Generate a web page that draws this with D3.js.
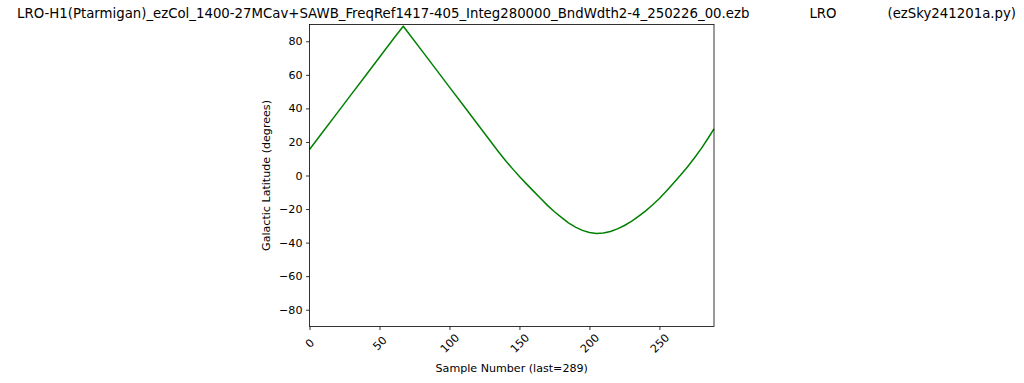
<!DOCTYPE html>
<html>
<head>
<meta charset="utf-8">
<script src="https://cdn.jsdelivr.net/npm/d3@7"></script>
<style>
  body { margin: 0; background: #fff; }
  text { font-family: "DejaVu Sans", sans-serif; fill: #000; }
</style>
</head>
<body>
<svg class="chart"></svg>
<script>
const width = 1024;
const height = 383;

// sample number and galactic latitude
const samples = [0, 10, 20, 30, 40, 50, 60, 67, 70, 80, 90, 100, 110, 120, 130, 135, 140, 145,
  150, 155, 160, 165, 170, 175, 180, 185, 190, 195, 200, 205, 210, 215, 220, 225, 230, 235, 240,
  245, 250, 255, 260, 265, 270, 275, 280, 285, 289];
const latitudes = [15.5, 26.5, 37.5, 48.5, 59.5, 70.5, 81.5, 89.0, 85.7, 74.7, 63.7, 52.7, 41.7,
  30.7, 19.7, 14.2, 8.9, 4.1, -0.6, -5.0, -9.3, -13.6, -17.8, -21.6, -25.0, -28.2, -30.8, -32.7,
  -34.0, -34.6, -34.3, -33.4, -31.8, -29.8, -27.3, -24.4, -21.2, -17.6, -13.7, -9.3, -4.6, 0.1,
  5.1, 10.4, 16.2, 22.5, 27.8];
const xTicks = [0, 50, 100, 150, 200, 250];
const yTicks = [-80, -60, -40, -20, 0, 20, 40, 60, 80];
const titleParts = ["LRO-H1(Ptarmigan)_ezCol_1400-27MCav+SAWB_FreqRef1417-405_Integ280000_BndWdth2-4_250226_00.ezb",
  "LRO", "(ezSky241201a.py)"];
const xLabel = "Sample Number (last=289)";
const yLabel = "Galactic Latitude (degrees)";

const margin = { top: 24.5, right: 310, bottom: 56.5, left: 309.5 };
const plotW = width - margin.left - margin.right;
const plotH = height - margin.top - margin.bottom;

const svg = d3.select('.chart').attr('width', width).attr('height', height);
const g = svg.append('g').attr('transform', `translate(${margin.left},${margin.top})`);

const x = d3.scaleLinear().domain([0, 289]).range([0, plotW]);
const y = d3.scaleLinear().domain([-90, 90]).range([plotH, 0]);

// title pieces (matplotlib title with wide gaps)
const titleX = [17, 823, 1016];
const titleAnchor = ['start', 'middle', 'end'];
svg.selectAll('.title')
  .data(titleParts)
  .enter()
  .append('text')
  .attr('class', 'title')
  .attr('x', (d, i) => titleX[i])
  .attr('y', 18)
  .attr('text-anchor', (d, i) => titleAnchor[i])
  .style('font-size', '13.3px')
  .text(d => d);

// the line
const line = d3.line()
  .x((d, i) => x(samples[i]))
  .y(d => y(d));

g.append('path')
  .datum(latitudes)
  .attr('d', line)
  .style('fill', 'none')
  .style('stroke', '#008000')
  .style('stroke-width', '1.5px')
  .style('stroke-linejoin', 'round');

// x axis
const xAxis = g.append('g')
  .attr('transform', `translate(0,${plotH})`)
  .call(d3.axisBottom(x).tickValues(xTicks).tickSize(3.5).tickPadding(3.5).tickFormat(d3.format('d')));
xAxis.select('.domain').remove();
xAxis.selectAll('line').attr('stroke', '#000').attr('stroke-width', 0.8);
xAxis.selectAll('text')
  .style('font-size', '11.1px')
  .attr('y', 0)
  .attr('dy', null)
  .attr('text-anchor', 'middle')
  .attr('dominant-baseline', 'central')
  .attr('transform', 'translate(0,17) rotate(-45)');

// y axis
const yAxis = g.append('g')
  .call(d3.axisLeft(y).tickValues(yTicks).tickSize(3.5).tickPadding(3.5)
    .tickFormat(d => d < 0 ? '\u2212' + Math.abs(d) : d));
yAxis.select('.domain').remove();
yAxis.selectAll('line').attr('stroke', '#000').attr('stroke-width', 0.8);
yAxis.selectAll('text').style('font-size', '11.1px');

// frame
g.append('rect')
  .attr('width', plotW)
  .attr('height', plotH)
  .style('fill', 'none')
  .style('stroke', '#000')
  .style('stroke-width', '0.8px');

// axis labels
svg.append('text')
  .attr('x', margin.left + plotW / 2)
  .attr('y', 372)
  .attr('text-anchor', 'middle')
  .style('font-size', '11.1px')
  .text(xLabel);

svg.append('text')
  .attr('transform', `translate(270,${margin.top + plotH / 2}) rotate(-90)`)
  .attr('text-anchor', 'middle')
  .style('font-size', '11.1px')
  .text(yLabel);
</script>
</body>
</html>
